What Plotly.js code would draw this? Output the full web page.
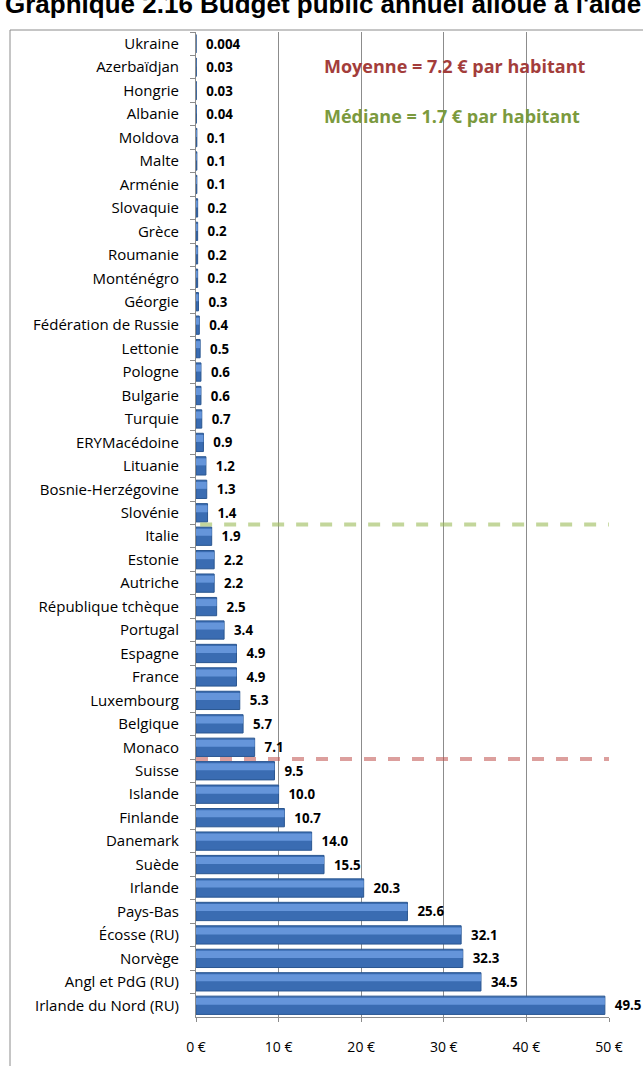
<!DOCTYPE html>
<html>
<head>
<meta charset="utf-8">
<script src="https://cdn.plot.ly/plotly-3.0.1.min.js"></script>
<style>
html,body{margin:0;padding:0;background:#fff;}
#chart{width:643px;height:1066px;}
</style>
</head>
<body>
<div id="chart"></div>
<script>
const countries = ["Ukraine","Azerbaïdjan","Hongrie","Albanie","Moldova","Malte","Arménie","Slovaquie","Grèce","Roumanie","Monténégro","Géorgie","Fédération de Russie","Lettonie","Pologne","Bulgarie","Turquie","ERYMacédoine","Lituanie","Bosnie-Herzégovine","Slovénie","Italie","Estonie","Autriche","République tchèque","Portugal","Espagne","France","Luxembourg","Belgique","Monaco","Suisse","Islande","Finlande","Danemark","Suède","Irlande","Pays-Bas","Écosse (RU)","Norvège","Angl et PdG (RU)","Irlande du Nord (RU)"];
const budgetPerCapita = [0.004,0.03,0.03,0.04,0.1,0.1,0.1,0.2,0.2,0.2,0.2,0.3,0.4,0.5,0.6,0.6,0.7,0.9,1.2,1.3,1.4,1.9,2.2,2.2,2.5,3.4,4.9,4.9,5.3,5.7,7.1,9.5,10.0,10.7,14.0,15.5,20.3,25.6,32.1,32.3,34.5,49.5];
const valueLabels = ["0.004","0.03","0.03","0.04","0.1","0.1","0.1","0.2","0.2","0.2","0.2","0.3","0.4","0.5","0.6","0.6","0.7","0.9","1.2","1.3","1.4","1.9","2.2","2.2","2.5","3.4","4.9","4.9","5.3","5.7","7.1","9.5","10.0","10.7","14.0","15.5","20.3","25.6","32.1","32.3","34.5","49.5"];
const xTickValues = [0,10,20,30,40,50];
const xTickLabels = ["0 €","10 €","20 €","30 €","40 €","50 €"];
const meanValue = 7.2;
const medianValue = 1.7;
const titleText = "Graphique 2.16 Budget public annuel alloué à l'aide judiciaire par habitant";
const meanText = "Moyenne = 7.2 € par habitant";
const medianText = "Médiane = 1.7 € par habitant";

// boundary position (between categories) where values first exceed a threshold
function boundaryFor(v){
  const i = budgetPerCapita.findIndex(b => b > v);
  return i - 0.5;
}

const barWidth = 0.78;
const mainBars = {
  type:'bar', orientation:'h',
  y: countries, x: budgetPerCapita,
  width: barWidth, offset: -barWidth/2,
  marker:{color:'#3a6cb2', line:{color:'#2a5690', width:1}},
  text: valueLabels, texttemplate:'\u00a0\u00a0%{text}', textposition:'outside',
  textfont:{family:'Open Sans, sans-serif', size:16, color:'#000', weight:'bold'},
  cliponaxis:false, hoverinfo:'x+y'
};
const highlight = {
  type:'bar', orientation:'h',
  y: countries, x: budgetPerCapita,
  width: 0.3, offset: -barWidth/2 + 0.07,
  marker:{color:'#6595da', line:{width:0}},
  hoverinfo:'skip', showlegend:false
};

const mPos = boundaryFor(meanValue);
const mdPos = boundaryFor(medianValue);

const layout = {
  width:643, height:1066,
  margin:{l:196, r:34, t:32, b:49},
  paper_bgcolor:'#fff', plot_bgcolor:'#fff',
  showlegend:false,
  barmode:'overlay',
  font:{family:'Open Sans, sans-serif', color:'#000'},
  title:{text:titleText, font:{family:'Liberation Sans, Arial, sans-serif', size:26, color:'#000', weight:'bold'},
         xref:'container', x:5/643, xanchor:'left', yref:'container', y:1-4/1066, yanchor:'middle'},
  xaxis:{range:[0,50], tickvals:xTickValues, ticktext:xTickLabels,
         showgrid:true, gridcolor:'#8c8c8c', gridwidth:1, zeroline:false,
         showline:true, linecolor:'#8c8c8c', linewidth:1,
         ticks:'outside', ticklen:4, tickcolor:'#8c8c8c', ticklabelstandoff:13,
         tickfont:{family:'Open Sans, sans-serif', size:14, color:'#000'}, fixedrange:true},
  yaxis:{type:'category', autorange:'reversed',
         showline:true, linecolor:'#8c8c8c', linewidth:1,
         ticks:'outside', ticklen:5, tickcolor:'#8c8c8c', tickson:'boundaries',
         showgrid:false, ticklabelstandoff:13,
         tickfont:{family:'Open Sans, sans-serif', size:15, color:'#000'}, fixedrange:true},
  shapes:[
    {type:'rect', xref:'paper', yref:'paper', x0:(10-196)/413, x1:2, y0:-0.2, y1:1+2/985,
     line:{color:'#8c8c8c', width:1}, fillcolor:'rgba(0,0,0,0)', layer:'below'},
    {type:'rect', xref:'paper', yref:'paper', x0:(286-196)/413, x1:2, y0:1-118/985, y1:1-4/985,
     line:{width:0}, fillcolor:'#fff', layer:'between'},
    {type:'line', xref:'paper', yref:'y', x0:0, x1:1, y0:mPos, y1:mPos,
     line:{color:'rgba(192,80,77,0.55)', width:4, dash:'dash'}, layer:'above'},
    {type:'line', xref:'paper', yref:'y', x0:0.01, x1:1, y0:mdPos, y1:mdPos,
     line:{color:'rgba(155,187,89,0.6)', width:4, dash:'dash'}, layer:'above'}
  ],
  annotations:[
    {text:meanText, xref:'paper', yref:'paper', x:(322-196)/413, y:1-34/985, xanchor:'left', yanchor:'middle',
     showarrow:false, font:{family:'Open Sans, sans-serif', size:18, color:'#a33d3b', weight:'bold'}},
    {text:medianText, xref:'paper', yref:'paper', x:(322-196)/413, y:1-84/985, xanchor:'left', yanchor:'middle',
     showarrow:false, font:{family:'Open Sans, sans-serif', size:18, color:'#7b9a3e', weight:'bold'}}
  ]
};

Plotly.newPlot('chart', [mainBars, highlight], layout, {displayModeBar:false, staticPlot:true});
</script>
</body>
</html>
